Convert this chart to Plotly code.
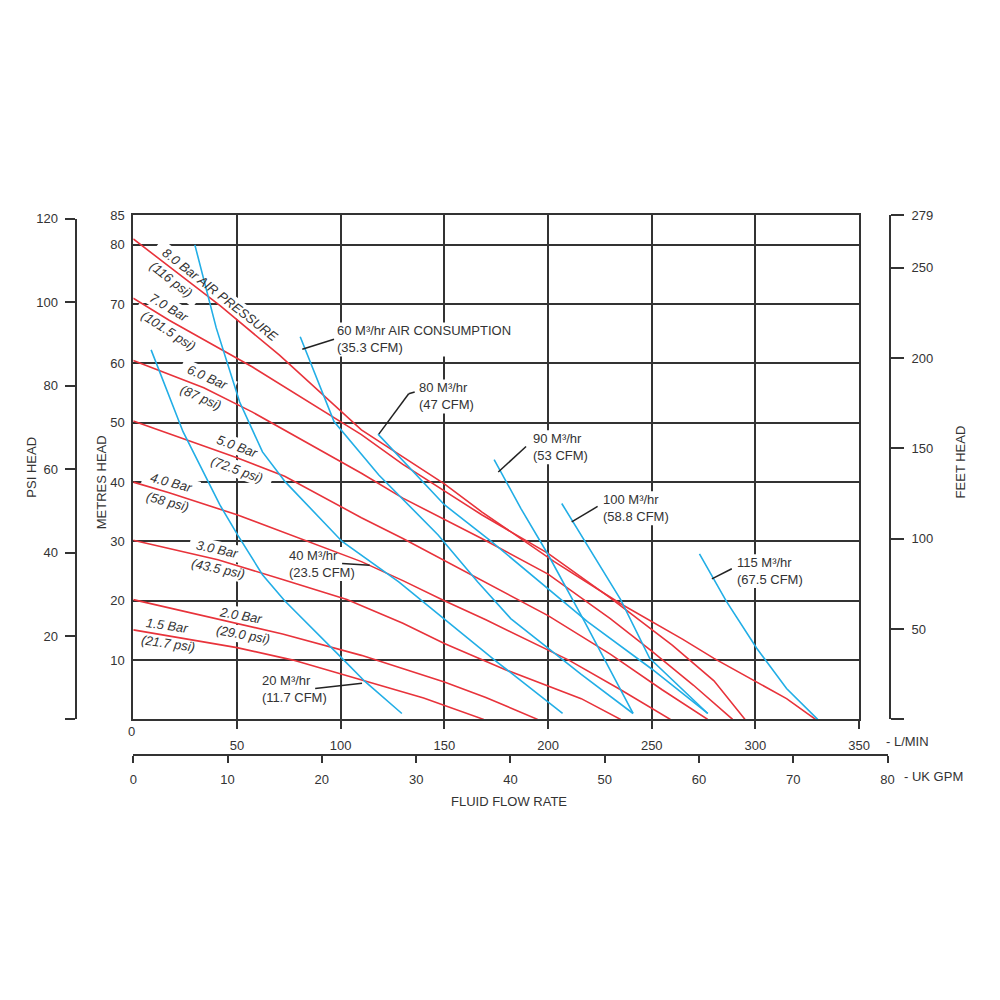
import math
import plotly.graph_objects as go

# ---------------- data (L/min, metres head) ----------------
bar80_x = [0, 18, 42, 70.5, 110, 150, 168, 203, 235, 265, 280, 315, 329]
bar80_y = [81, 76.1, 69.7, 61.4, 48.8, 39.7, 35, 26.6, 19.5, 13.5, 10.3, 3.5, 0]
bar70_x = [0, 17.3, 57.5, 110, 130, 150, 168, 200, 230, 260, 280, 295]
bar70_y = [71, 67.3, 59.4, 48, 43, 38.5, 34.5, 28, 20.5, 12.5, 6.5, 0]
bar60_x = [0, 34, 57.5, 110, 130, 168, 200, 230, 250, 270, 289]
bar60_y = [60.5, 55.9, 51.8, 41.5, 37.3, 30.5, 24.5, 17, 11.5, 5.8, 0]
bar50_x = [0, 50, 73, 110, 130, 168, 200, 230, 255, 277]
bar50_y = [50.3, 44.1, 41, 34, 30.5, 23.5, 17.5, 11, 5, 0]
bar40_x = [0, 17.3, 50, 110, 130, 150, 170, 210, 235, 259]
bar40_y = [40, 38.2, 34.5, 26.6, 23.4, 20, 16.8, 10, 5, 0]
bar30_x = [0, 40.8, 72, 103, 130, 150, 180, 216, 235]
bar30_y = [30.2, 26.9, 23.6, 20.2, 16.2, 12.8, 8.3, 3.5, 0]
bar20_x = [0, 52, 72, 110, 130, 150, 170, 195]
bar20_y = [20.2, 16.0, 14.4, 10.8, 8.6, 6.3, 3.7, 0]
bar15_x = [0, 16.8, 50, 77, 110, 140, 169]
bar15_y = [15.1, 14.1, 12.1, 10, 6.7, 3.6, 0]

air20_x = [8.6, 24, 41.7, 50.3, 62.3, 73, 100.7, 111.7, 129.5]
air20_y = [62.3, 48.5, 36.2, 31.1, 24.4, 20, 10.3, 6.4, 1]
air40_x = [29.7, 40, 51.3, 62.3, 73.4, 100.7, 128, 143.8, 175, 207]
air40_y = [80, 66, 53.5, 45.1, 40, 30, 23.2, 18.7, 9.8, 1]
air60_x = [80.5, 90, 96.8, 118.4, 129.5, 147, 166, 182, 216, 241]
air60_y = [64.5, 56, 50.2, 41.2, 37.3, 31.1, 23.2, 17, 7.6, 1]
air80_x = [118, 129.5, 150, 172.6, 200, 219, 250, 277]
air80_y = [48.1, 43.8, 36.2, 30, 22, 16.5, 8.5, 1]
air90_x = [174, 187, 200, 217.6, 241]
air90_y = [43.8, 35.5, 27.8, 16.5, 1]
air100_x = [206.6, 222, 235, 249, 277]
air100_y = [36.4, 27.6, 20.2, 10.3, 1]
air115_x = [273, 286, 300.6, 315, 330]
air115_y = [27.9, 19.9, 12, 5.2, 0]

red_curves = [(bar80_x, bar80_y), (bar70_x, bar70_y), (bar60_x, bar60_y), (bar50_x, bar50_y),
              (bar40_x, bar40_y), (bar30_x, bar30_y), (bar20_x, bar20_y), (bar15_x, bar15_y)]
cyan_curves = [(air20_x, air20_y), (air40_x, air40_y), (air60_x, air60_y), (air80_x, air80_y),
               (air90_x, air90_y), (air100_x, air100_y), (air115_x, air115_y)]

# pressure labels: text, x, y, angle, box width(px)
bar_label_text = ["8.0 Bar AIR PRESSURE", "(116 psi)", "7.0 Bar", "(101.5 psi)", "6.0 Bar", "(87 psi)",
                  "5.0 Bar", "(72.5 psi)", "4.0 Bar", "(58 psi)", "3.0 Bar", "(43.5 psi)",
                  "2.0 Bar", "(29.0 psi)", "1.5 Bar", "(21.7 psi)"]
bar_label_x = [41.7, 18.2, 17.3, 16.8, 36.0, 32.6, 50.3, 49.9, 18.2, 16.3, 40.8, 40.8, 51.8, 52.7, 16.3, 16.8]
bar_label_y = [71.6, 74.1, 69.5, 65.6, 57.6, 54.2, 46.0, 42.2, 39.9, 36.7, 28.6, 25.4, 17.5, 14.3, 15.9, 12.8]
bar_label_ang = [38, 38, 31, 33, 24, 24, 20, 20, 15, 15, 12, 12, 10, 10, 8, 8]
bar_label_w = [160, 68, 58, 78, 58, 62, 58, 74, 58, 62, 58, 74, 58, 74, 58, 74]

# air consumption labels
air_label_text = ["60 M³/hr AIR CONSUMPTION<br>(35.3 CFM)", "80 M³/hr<br>(47 CFM)", "90 M³/hr<br>(53 CFM)",
                  "100 M³/hr<br>(58.8 CFM)", "115 M³/hr<br>(67.5 CFM)", "40 M³/hr<br>(23.5 CFM)",
                  "20 M³/hr<br>(11.7 CFM)"]
air_label_x = [97.3, 136.6, 191.8, 225.3, 290.1, 74.3, 60.9]
air_label_y = [64.05, 54.45, 45.87, 35.6, 25.0, 26.2, 5.13]
air_label_w = [184, 64, 66, 76, 76, 76, 76]
leader_x = [[81.5, 96.8], [118.4, 132.8, 135.7], [176, 189.4], [211.4, 223.9], [279, 288.6], [100.7, 114], [87.7, 110.3]]
leader_y = [[62.4, 64.1], [48.1, 54.9, 55.2], [41.7, 46], [33.3, 35.9], [23.7, 25.4], [26.3, 26.0], [5.2, 6.1]]

lmin_ticks = [50, 100, 150, 200, 250, 300, 350]
gpm_ticks = [0, 10, 20, 30, 40, 50, 60, 70, 80]
metre_ticks = [10, 20, 30, 40, 50, 60, 70, 80, 85]
psi_ticks = [0, 20, 40, 60, 80, 100, 120]
psi_text = ["", "20", "40", "60", "80", "100", "120"]
feet_ticks = [0, 50, 100, 150, 200, 250, 279]
feet_text = ["", "50", "100", "150", "200", "250", "279"]

RED = "#e8333b"
CYAN = "#22aee6"
INK = "#333333"
FONT = "Liberation Sans, Arial, sans-serif"
XS = 730 / 350.0  # px per L/min
YS = 505 / 85.0   # px per metre
KX = 1.0095       # horizontal calibration of the page capture
OY, KY = 4.5, 0.9945  # vertical calibration of the page capture


def px(v):
    return v / 1000.0 * KX


def py(v):
    return 1 - ((v - OY) / KY) / 1000.0


fig = go.Figure()
for cx, cy in red_curves:
    fig.add_trace(go.Scatter(x=cx, y=cy, mode="lines", line=dict(color=RED, width=1.6),
                             showlegend=False, hoverinfo="skip"))
for cx, cy in cyan_curves:
    fig.add_trace(go.Scatter(x=cx, y=cy, mode="lines", line=dict(color=CYAN, width=1.6),
                             showlegend=False, hoverinfo="skip"))
# dummy traces for auxiliary axes
fig.add_trace(go.Scatter(x=[None], y=[None], xaxis="x2", yaxis="y4", showlegend=False, hoverinfo="skip"))
fig.add_trace(go.Scatter(x=[None], y=[None], xaxis="x3", yaxis="y2", showlegend=False, hoverinfo="skip"))
fig.add_trace(go.Scatter(x=[None], y=[None], xaxis="x4", yaxis="y3", showlegend=False, hoverinfo="skip"))

shapes = []
annotations = []


def rot_box(cx, cy, w, h, ang):
    t = math.radians(ang)
    pts = []
    for u, v in [(-w / 2, -h / 2), (w / 2, -h / 2), (w / 2, h / 2), (-w / 2, h / 2)]:
        dx = u * math.cos(t) - v * math.sin(t)
        dy = u * math.sin(t) + v * math.cos(t)
        pts.append((cx + dx / XS, cy - dy / YS))
    return "M " + " L ".join(f"{a:.3f},{b:.3f}" for a, b in pts) + " Z"


for txt, lx, ly, la, lw in zip(bar_label_text, bar_label_x, bar_label_y, bar_label_ang, bar_label_w):
    shapes.append(dict(type="path", xref="x", yref="y", path=rot_box(lx, ly, lw, 17, la),
                       fillcolor="white", line=dict(width=0), layer="between"))
    annotations.append(dict(x=lx, y=ly, xref="x", yref="y", text="<i>" + txt + "</i>", showarrow=False,
                            textangle=la, font=dict(size=13, color=INK, family=FONT),
                            xanchor="center", yanchor="middle"))

for txt, lx, ly, lw in zip(air_label_text, air_label_x, air_label_y, air_label_w):
    shapes.append(dict(type="rect", xref="x", yref="y", x0=lx - 2 / XS, x1=lx + lw / XS,
                       y0=ly - 17 / YS, y1=ly + 17 / YS, fillcolor="white", line=dict(width=0),
                       layer="between"))
    annotations.append(dict(x=lx, y=ly, xref="x", yref="y", text=txt, showarrow=False, align="left",
                            font=dict(size=13, color=INK, family=FONT), xanchor="left", yanchor="middle"))

for lxs, lys in zip(leader_x, leader_y):
    for i in range(len(lxs) - 1):
        shapes.append(dict(type="line", xref="x", yref="y", x0=lxs[i], y0=lys[i], x1=lxs[i + 1], y1=lys[i + 1],
                           line=dict(color="#222", width=1.5), layer="above"))


def pap(text, x, y, angle=0, xanchor="center", size=13):
    annotations.append(dict(x=px(x), y=py(y), xref="paper", yref="paper", text=text, showarrow=False,
                            textangle=angle, xanchor=xanchor, yanchor="middle",
                            font=dict(size=size, color=INK, family=FONT)))


pap("0", 128, 730)
pap("- L/MIN", 885, 740, xanchor="left")
pap("- UK GPM", 903, 775, xanchor="left")
pap("FLUID FLOW RATE", 508, 800)
pap("PSI HEAD", 28, 465, angle=-90)
pap("METRES HEAD", 98, 480, angle=-90)
pap("FEET HEAD", 962, 460, angle=-90)

tickfont = dict(size=13, color=INK, family=FONT)
fig.update_layout(
    width=1000, height=1000, margin=dict(l=0, r=0, t=0, b=0), autosize=False,
    paper_bgcolor="white", plot_bgcolor="white", showlegend=False,
    font=dict(family=FONT, color=INK, size=13),
    xaxis=dict(domain=[px(130), px(860)], range=[0, 350], tickvals=lmin_ticks, ticks="outside", ticklen=8,
               tickwidth=2, tickcolor=INK, showgrid=True, gridcolor=INK, gridwidth=2, zeroline=False,
               showline=True, linecolor=INK, linewidth=2, mirror=True, tickfont=tickfont,
               ticklabelstandoff=5, anchor="y"),
    yaxis=dict(domain=[py(718), py(213)], range=[0, 85], tickvals=metre_ticks, ticks="", showgrid=True,
               gridcolor=INK, gridwidth=2, zeroline=False, showline=True, linecolor=INK, linewidth=2,
               mirror=True, tickfont=tickfont, ticklabelstandoff=4, anchor="x"),
    xaxis2=dict(domain=[px(130), px(888.6)], range=[0, 80], anchor="y4", side="bottom", tickvals=gpm_ticks,
                ticks="outside", ticklen=7, tickwidth=2, tickcolor=INK, showline=True, linecolor=INK,
                linewidth=2, showgrid=False, zeroline=False, tickfont=tickfont, ticklabelstandoff=5),
    yaxis4=dict(domain=[py(753), py(753) + 0.0005], range=[0, 1], visible=False, anchor="x2"),
    xaxis3=dict(domain=[px(73), px(74)], range=[0, 1], visible=False, anchor="y2"),
    yaxis2=dict(domain=[py(718), py(216.6)], range=[0, 120], anchor="x3", side="left", tickvals=psi_ticks,
                ticktext=psi_text, ticks="outside", ticklen=10, tickwidth=2, tickcolor=INK, showline=True,
                linecolor=INK, linewidth=2, showgrid=False, zeroline=False, tickfont=tickfont,
                ticklabelstandoff=4),
    xaxis4=dict(domain=[px(889), px(890)], range=[0, 1], visible=False, anchor="y3"),
    yaxis3=dict(domain=[py(718), py(213)], range=[0, 279], anchor="x4", side="right", tickvals=feet_ticks,
                ticktext=feet_text, ticks="outside", ticklen=13, tickwidth=2, tickcolor=INK, showline=True,
                linecolor=INK, linewidth=2, showgrid=False, zeroline=False, tickfont=tickfont,
                ticklabelstandoff=5),
    shapes=shapes, annotations=annotations,
)

fig.write_html(
    "out.html",
    config={"responsive": False, "displayModeBar": False},
    post_script="document.body.style.margin='0px';document.body.style.padding='0px';"
                "document.body.style.overflow='hidden';",
)
